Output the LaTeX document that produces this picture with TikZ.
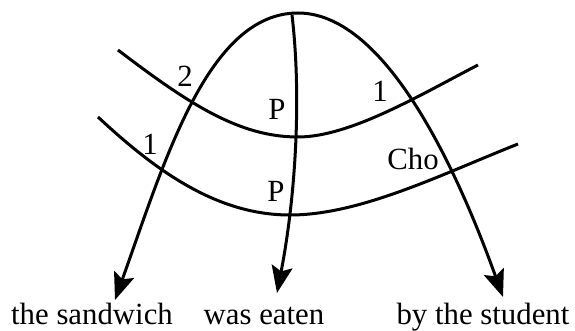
\documentclass[tikz,border=0pt]{standalone}
\usepackage{fontspec}
\setmainfont{Liberation Serif}
\usepackage{tikz}
\usetikzlibrary{arrows.meta,positioning,calc}
\tikzset{
  >={Stealth[length=13.5pt, width=10.5pt, inset=2.5pt]},
  wordnode/.style={font=\fontsize{15.4}{18}\selectfont, inner sep=0pt, anchor=base},
  linklabel/.style={font=\fontsize{15.4}{18}\selectfont, inner sep=0pt, anchor=base},
  deparc/.style={line width=1.5pt},
  bindline/.style={line width=1.5pt},
}

\begin{document}
\begin{tikzpicture}[x=0.5pt, y=-0.5pt]
\useasboundingbox (0,0) rectangle (575,331);

% words
\node[wordnode] (sandwich) at (92,325) {the sandwich};
\node[wordnode] (eaten) at (264,325) {was eaten};
\node[wordnode] (student) at (483,325) {by the student};

% arrow ends
\coordinate (sandwich-in) at (115,300);
\coordinate (eaten-in) at (277,293);
\coordinate (student-in) at (503,297);
\coordinate (apex) at (298,13);
\coordinate (stem) at (292,15);

% ends of the crossing lines
\coordinate (upper-l) at (118,50);
\coordinate (upper-m) at (298,137);
\coordinate (upper-r) at (478,65);
\coordinate (lower-l) at (98,117);
\coordinate (lower-m) at (290,215);
\coordinate (lower-r) at (518,144);

% arcs
\draw[deparc, <->] (sandwich-in) .. controls (165,160) and (208,13) .. (apex)
  .. controls (380,13) and (450,150) .. (student-in);
\draw[deparc, ->] (stem) .. controls (302,100) and (295,200) .. (eaten-in);

\draw[bindline] (upper-l) .. controls (190,105) and (240,137) .. (upper-m)
  .. controls (350,137) and (420,95) .. (upper-r);
\draw[bindline] (lower-l) .. controls (160,175) and (220,215) .. (lower-m)
  .. controls (360,215) and (440,175) .. (lower-r);

% labels
\node[linklabel] (two) at (185,87) {2};
\node[linklabel] (p-up) at (277,120) {P};
\node[linklabel] (one-l) at (150,155) {1};
\node[linklabel] (p-low) at (276,202) {P};
\node[linklabel] (one-r) at (380,102) {1};
\node[linklabel] (cho) at (413,170) {Cho};
\end{tikzpicture}
\end{document}
